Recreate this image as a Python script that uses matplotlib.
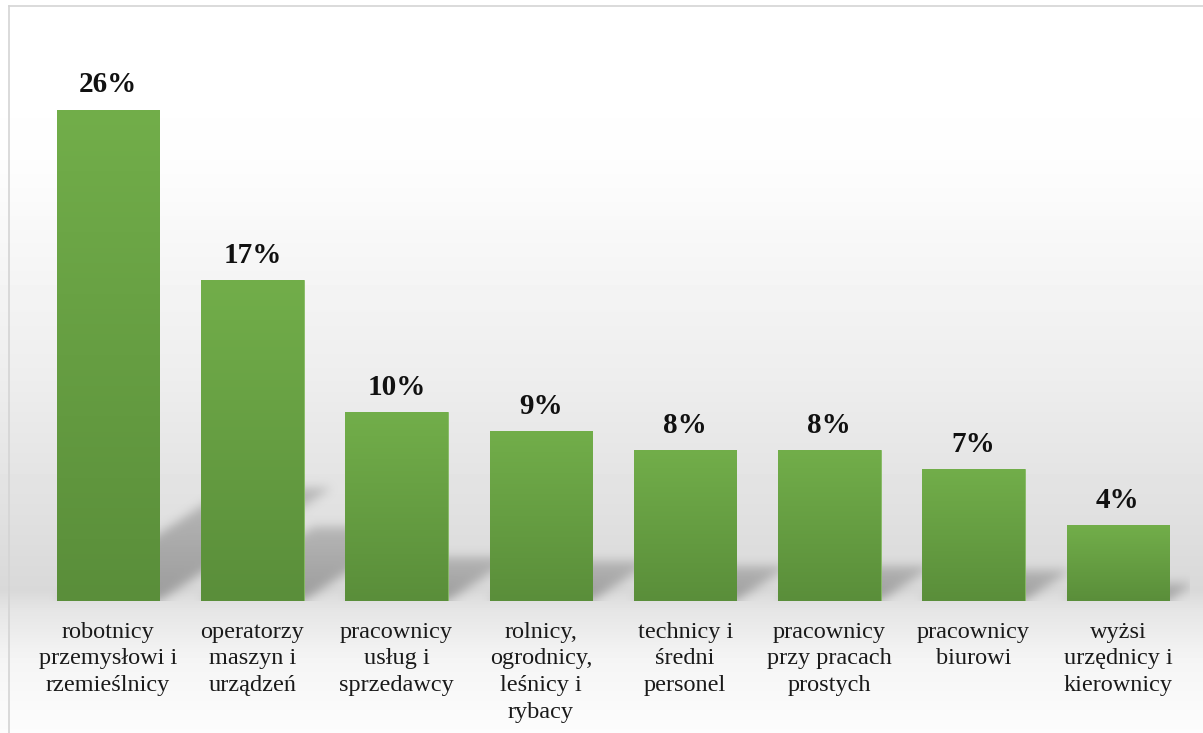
import numpy as np
import matplotlib
matplotlib.use("Agg")
import matplotlib.pyplot as plt
from matplotlib.lines import Line2D
from matplotlib.colors import LinearSegmentedColormap

# dane
categories = [
    "robotnicy\nprzemysłowi i\nrzemieślnicy",
    "operatorzy\nmaszyn i\nurządzeń",
    "pracownicy\nusług i\nsprzedawcy",
    "rolnicy,\nogrodnicy,\nleśnicy i\nrybacy",
    "technicy i\nśredni\npersonel",
    "pracownicy\nprzy pracach\nprostych",
    "pracownicy\nbiurowi",
    "wyżsi\nurzędnicy i\nkierownicy",
]
values = [26, 17, 10, 9, 8, 8, 7, 4]
value_labels = ["26%", "17%", "10%", "9%", "8%", "8%", "7%", "4%"]

plt.rcParams['font.family'] = ['Liberation Serif', 'DejaVu Serif']

W, H = 1203, 733
fig = plt.figure(figsize=(W / 100, H / 100), dpi=100)

# tlo z gradientem (jasne u gory, szare przy osi, znowu jasne na dole)
bg = fig.add_axes([0, 0, 1, 1], zorder=-10)
ypx = np.array([0, 150, 380, 590, 610, 660, 733])
gray = np.array([1.0, 0.995, 0.93, 0.85, 0.90, 0.96, 0.99])
col = np.interp(np.arange(H), ypx, gray)
bg.imshow(col[:, None], cmap='gray', vmin=0, vmax=1, aspect='auto',
          extent=[0, 1, 0, 1], interpolation='nearest')
bg.axis('off')

# ramka
fig.add_artist(Line2D([9 / W, 9 / W], [0, 1 - 6 / H], color='#d4d4d4', lw=1.2))
fig.add_artist(Line2D([9 / W, 1], [1 - 6 / H, 1 - 6 / H], color='#d4d4d4', lw=1.2))

ax = fig.add_axes([36 / W, 132 / H, (1190 - 36) / W, (601 - 34) / H])
ax.patch.set_alpha(0)
x = np.arange(len(values))
width = 0.71
xmin, xmax, ymax = -0.5, len(values) - 0.5, 30

# cienie - rzut slupka na "podloge", rozmyty
nx, ny = 1154, 567
gx = np.linspace(xmin, xmax, nx)
gy = np.linspace(0, ymax, ny)
XX, YY = np.meshgrid(gx, gy)
alpha = np.zeros_like(XX)
for xi, v in zip(x, values):
    dx = 0.046 * v
    dy = 0.23 * v
    t = YY / dy
    u = XX - t * dx
    m = (t >= 0) & (t <= 1) & (u >= xi - width / 2) & (u <= xi + width / 2)
    alpha = np.maximum(alpha, np.where(m, 0.55 * (1 - 0.35 * t), 0))


def blur(a, s):
    k = np.arange(-3 * s, 3 * s + 1)
    k = np.exp(-k ** 2 / (2 * s ** 2))
    k /= k.sum()
    a = np.apply_along_axis(lambda r: np.convolve(r, k, mode='same'), 1, a)
    a = np.apply_along_axis(lambda c: np.convolve(c, k, mode='same'), 0, a)
    return a


alpha = blur(alpha, 5)
alpha[0, :] = alpha[1, :]
shadow = np.zeros((ny, nx, 4))
shadow[..., :3] = 0.42
shadow[..., 3] = alpha
ax.imshow(shadow, origin='lower', aspect='auto', extent=[xmin, xmax, 0, ymax],
          interpolation='bilinear', zorder=1)

bars = ax.bar(x, values, width=width, color='#66a043', edgecolor='#86bb63', linewidth=0.6, zorder=3)

green = LinearSegmentedColormap.from_list('g', ['#5a8e3a', '#72ae4a'])
grad = np.linspace(0, 1, 256)[:, None]
for b in bars:
    x0, y0 = b.get_x(), b.get_y()
    im = ax.imshow(grad, cmap=green, origin='lower', aspect='auto',
                   extent=[x0, x0 + b.get_width(), y0, y0 + b.get_height()], zorder=3.5)
    im.set_clip_path(b)

ax.set_xlim(xmin, xmax)
ax.set_ylim(0, ymax)

for xi, v, lab in zip(x, values, value_labels):
    ax.annotate(lab, (xi, v), xytext=(0, 8), textcoords='offset points',
                ha='center', va='bottom', fontsize=21, fontweight='bold', color='#111111')

for xi, cat in zip(x, categories):
    ax.annotate(cat, (xi, 0), xytext=(0, -15), textcoords='offset points',
                ha='center', va='top', fontsize=17.5, color='#1a1a1a', linespacing=1.35)

ax.set_xticks([])
ax.set_yticks([])
for sp in ax.spines.values():
    sp.set_visible(False)

fig.savefig("out.png", dpi=100)
